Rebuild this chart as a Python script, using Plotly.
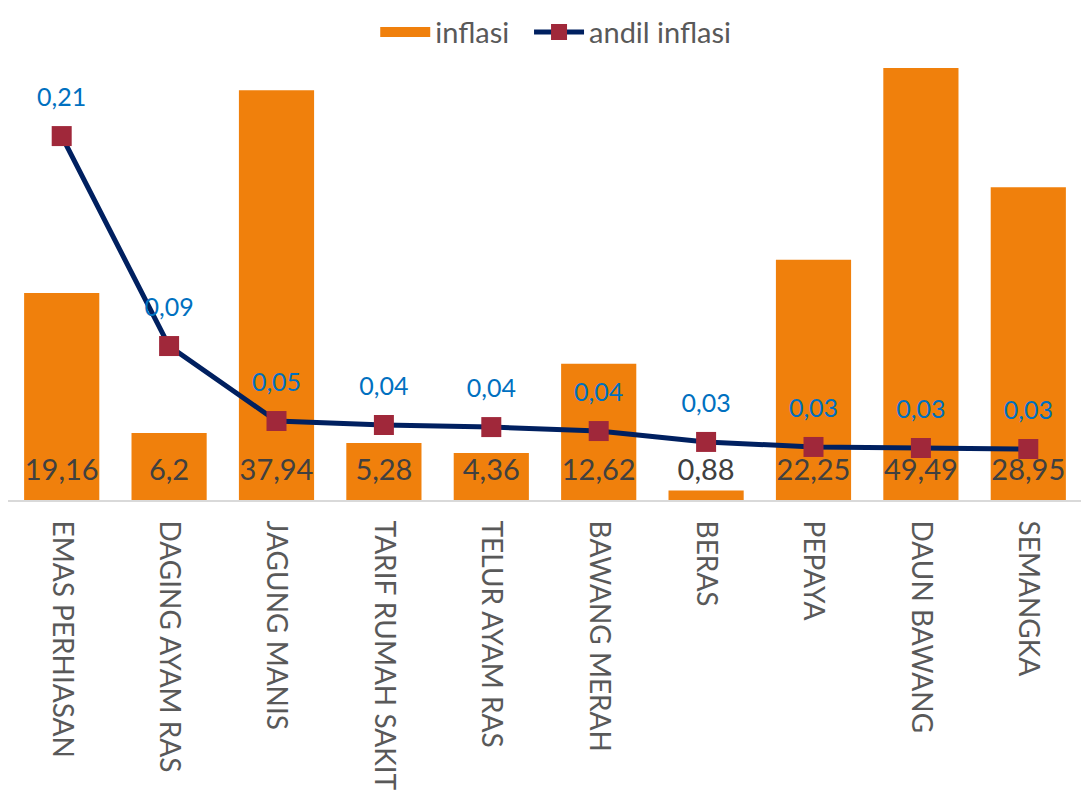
import plotly.graph_objects as go

categories = ["EMAS PERHIASAN", "DAGING AYAM RAS", "JAGUNG MANIS", "TARIF RUMAH SAKIT",
              "TELUR AYAM RAS", "BAWANG MERAH", "BERAS", "PEPAYA", "DAUN BAWANG", "SEMANGKA"]
inflasi = [19.16, 6.2, 37.94, 5.28, 4.36, 12.62, 0.88, 22.25, 49.49, 28.95]
andil = [0.2106, 0.0891, 0.0457, 0.0434, 0.0422, 0.0399, 0.0336, 0.0307, 0.0301, 0.0295]
andil_labels = ["0,21", "0,09", "0,05", "0,04", "0,04", "0,04", "0,03", "0,03", "0,03", "0,03"]
inflasi_labels = [f"{v:g}".replace(".", ",") for v in inflasi]

Y1_MAX = 40
Y2_MAX = 0.25
FONT = "Lato"
ORANGE = "#F0800C"

fig = go.Figure()
fig.add_trace(go.Bar(
    x=categories, y=inflasi, name="inflasi",
    marker=dict(color=ORANGE, line=dict(width=0)),
    hoverinfo="x+y", showlegend=False,
))
# legend entry for bars (wide orange swatch)
fig.add_trace(go.Scatter(
    x=[None], y=[None], mode="lines", name="inflasi  ",
    line=dict(color=ORANGE, width=15),
))
# bar value labels near the base
fig.add_trace(go.Scatter(
    x=categories, y=[Y1_MAX * 0.062] * len(categories), mode="text",
    text=inflasi_labels, textposition="middle center",
    textfont=dict(family=FONT, size=29, color="#404040"),
    showlegend=False, hoverinfo="skip", cliponaxis=False,
))
fig.add_trace(go.Scatter(
    x=categories, y=andil, name="andil inflasi", yaxis="y2",
    mode="lines+markers",
    line=dict(color="#002060", width=5),
    marker=dict(symbol="square", size=20, color="#A0283A"),
))
# andil labels above markers
fig.add_trace(go.Scatter(
    x=categories, y=andil, yaxis="y2", mode="markers+text",
    marker=dict(size=36, opacity=0),
    text=andil_labels, textposition="top center",
    textfont=dict(family=FONT, size=25, color="#0070C0"),
    showlegend=False, hoverinfo="skip", cliponaxis=False,
))

fig.update_layout(
    template="none",
    width=1089, height=793,
    margin=dict(l=0, r=15, t=60, b=301, autoexpand=False),
    paper_bgcolor="white", plot_bgcolor="white",
    bargap=0.3,
    font=dict(family=FONT, color="#595959"),
    showlegend=True,
    legend=dict(orientation="h", x=0.51, xanchor="center", y=1.083, yanchor="middle",
                font=dict(family=FONT, size=29, color="#595959"), itemwidth=50,
                bgcolor="rgba(0,0,0,0)"),
    xaxis=dict(
        automargin=False, range=[-0.5, len(categories) - 0.5],
        tickangle=90, tickfont=dict(family=FONT, size=28, color="#595959"),
        showline=True, linecolor="#D9D9D9", linewidth=2,
        ticks="outside", ticklen=13, tickcolor="rgba(0,0,0,0)",
        showgrid=False, zeroline=False,
    ),
    yaxis=dict(range=[0, Y1_MAX], visible=False, showgrid=False, automargin=False, zeroline=False),
    yaxis2=dict(range=[0, Y2_MAX], overlaying="y", side="right", visible=False,
                showgrid=False, automargin=False, zeroline=False),
)

fig.write_html("out.html")
